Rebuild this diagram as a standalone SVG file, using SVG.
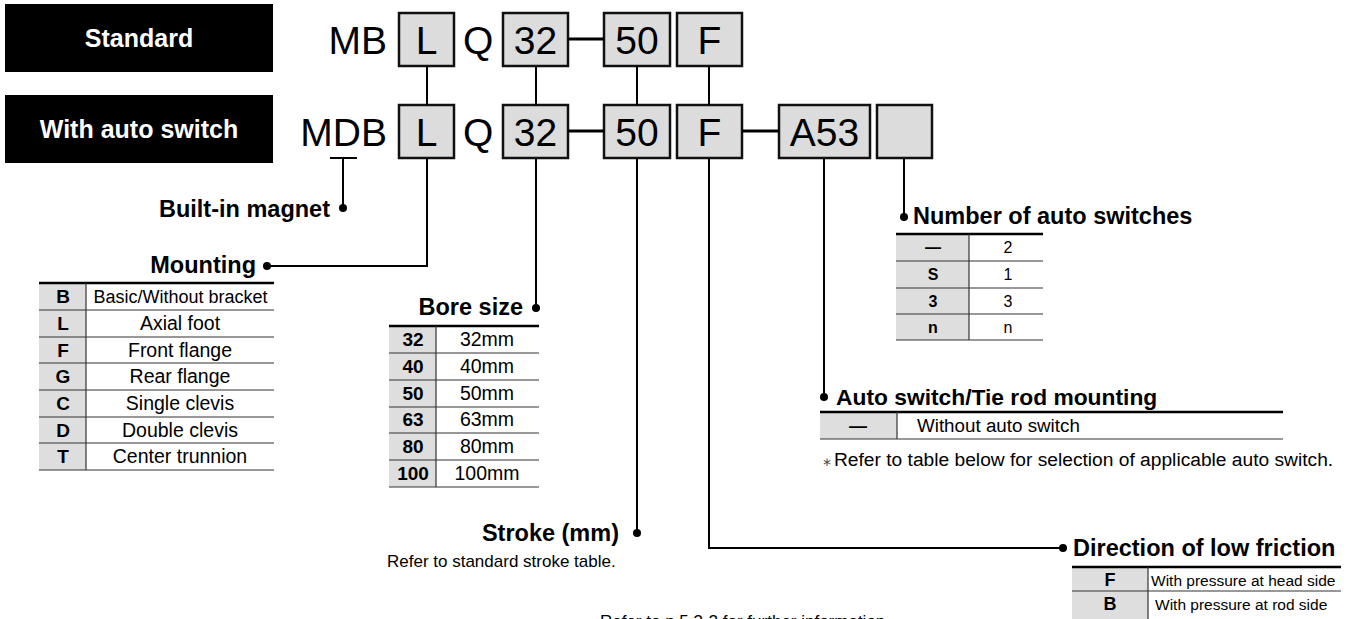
<svg xmlns="http://www.w3.org/2000/svg" width="1351" height="619" viewBox="0 0 1351 619">
<style>
.code{font-family:"Liberation Sans",Arial,sans-serif;font-size:39px;fill:#000}
.box{fill:#dcdcdc;stroke:#111;stroke-width:2.5}
.lbl{font-family:"Liberation Sans",Arial,sans-serif;font-size:23.5px;font-weight:bold;fill:#000}
.hdr{font-family:"Liberation Sans",Arial,sans-serif;font-size:25px;font-weight:bold;fill:#fff;text-anchor:middle}
.t{font-family:"Liberation Sans",Arial,sans-serif;font-size:19.5px;fill:#000;text-anchor:middle}
.tb{font-family:"Liberation Sans",Arial,sans-serif;font-size:19px;font-weight:bold;fill:#000;text-anchor:middle}
.gray{fill:#dedede}
.thick{stroke:#000;stroke-width:2.5}
.thin{stroke:#333;stroke-width:1.2}
.conn{stroke:#000;stroke-width:2;fill:none}
.dash{stroke:#000;stroke-width:3}
.dot{fill:#000}
</style>

<g id="hdr-standard">
<rect x="5" y="4" width="268" height="68" fill="#000"/>
<text class="hdr" x="139" y="47">Standard</text>
</g>
<g id="hdr-auto">
<rect x="5" y="95" width="268" height="68" fill="#000"/>
<text class="hdr" x="139" y="138">With auto switch</text>
</g>

<g id="row1">
<text class="code" x="387" y="54" text-anchor="end">MB</text>
<rect class="box" x="399" y="13" width="55" height="53"/>
<text class="code" x="426.5" y="54" text-anchor="middle">L</text>
<text class="code" x="463" y="54">Q</text>
<rect class="box" x="503" y="13" width="65" height="53"/>
<text class="code" x="535.5" y="54" text-anchor="middle">32</text>
<rect class="box" x="604" y="13" width="66" height="53"/>
<text class="code" x="637" y="54" text-anchor="middle">50</text>
<rect class="box" x="677" y="13" width="65" height="53"/>
<text class="code" x="709.5" y="54" text-anchor="middle">F</text>
</g>

<g id="row2">
<text class="code" x="387" y="146" text-anchor="end">MDB</text>
<rect class="box" x="399" y="105" width="55" height="53"/>
<text class="code" x="426.5" y="146" text-anchor="middle">L</text>
<text class="code" x="463" y="146">Q</text>
<rect class="box" x="503" y="105" width="65" height="53"/>
<text class="code" x="535.5" y="146" text-anchor="middle">32</text>
<rect class="box" x="604" y="105" width="66" height="53"/>
<text class="code" x="637" y="146" text-anchor="middle">50</text>
<rect class="box" x="677" y="105" width="65" height="53"/>
<text class="code" x="709.5" y="146" text-anchor="middle">F</text>
<rect class="box" x="779" y="105" width="91" height="53"/>
<text class="code" x="824.5" y="146" text-anchor="middle">A53</text>
<rect class="box" x="877" y="105" width="55" height="53"/>
</g>

<g id="connectors">
<line class="conn" x1="427" y1="66" x2="427" y2="105"/>
<line class="conn" x1="536" y1="66" x2="536" y2="105"/>
<line class="conn" x1="637" y1="66" x2="637" y2="105"/>
<line class="conn" x1="709" y1="66" x2="709" y2="105"/>
<line class="dash" x1="568" y1="39" x2="604" y2="39"/>
<line class="dash" x1="568" y1="131" x2="604" y2="131"/>
<line class="dash" x1="742" y1="131" x2="779" y2="131"/>
<line class="conn" x1="330" y1="158" x2="357" y2="158"/>
<line class="conn" x1="343" y1="158" x2="343" y2="208"/>
<circle class="dot" cx="343" cy="208" r="4"/>
<polyline class="conn" points="427,158 427,266 267,266"/>
<circle class="dot" cx="267" cy="266" r="4"/>
<line class="conn" x1="536" y1="158" x2="536" y2="308"/>
<circle class="dot" cx="536" cy="308" r="4"/>
<line class="conn" x1="637" y1="158" x2="637" y2="533"/>
<circle class="dot" cx="637" cy="533" r="4"/>
<polyline class="conn" points="709,158 709,548 1063,548"/>
<circle class="dot" cx="1063" cy="548" r="4"/>
<line class="conn" x1="824" y1="158" x2="824" y2="397"/>
<circle class="dot" cx="824" cy="397" r="4"/>
<line class="conn" x1="904" y1="158" x2="904" y2="217"/>
<circle class="dot" cx="904" cy="217" r="4"/>
</g>

<g id="magnet">
<text class="lbl" x="330" y="217" text-anchor="end">Built-in magnet</text>
</g>

<g id="mounting">
<text class="lbl" x="256" y="273" text-anchor="end">Mounting</text>
<rect class="gray" x="39" y="283" width="47" height="187"/>
<line class="thick" x1="39" y1="283" x2="274" y2="283"/>
<line class="thin" x1="39" y1="310" x2="274" y2="310"/>
<line class="thin" x1="39" y1="337" x2="274" y2="337"/>
<line class="thin" x1="39" y1="363" x2="274" y2="363"/>
<line class="thin" x1="39" y1="390" x2="274" y2="390"/>
<line class="thin" x1="39" y1="417" x2="274" y2="417"/>
<line class="thin" x1="39" y1="443" x2="274" y2="443"/>
<line class="thin" x1="39" y1="470" x2="274" y2="470"/>
<line class="thin" x1="86" y1="283" x2="86" y2="470"/>
<text class="tb" x="63" y="303">B</text>
<text class="tb" x="63" y="330">L</text>
<text class="tb" x="63" y="357">F</text>
<text class="tb" x="63" y="383">G</text>
<text class="tb" x="63" y="410">C</text>
<text class="tb" x="63" y="437">D</text>
<text class="tb" x="63" y="463">T</text>
<text class="t" x="180.5" y="303" style="font-size:18px">Basic/Without bracket</text>
<text class="t" x="180" y="330">Axial foot</text>
<text class="t" x="180" y="357">Front flange</text>
<text class="t" x="180" y="383">Rear flange</text>
<text class="t" x="180" y="410">Single clevis</text>
<text class="t" x="180" y="437">Double clevis</text>
<text class="t" x="180" y="463">Center trunnion</text>
</g>

<g id="bore">
<text class="lbl" x="523" y="315" text-anchor="end">Bore size</text>
<rect class="gray" x="389" y="326" width="47" height="161"/>
<line class="thick" x1="389" y1="326" x2="539" y2="326"/>
<line class="thin" x1="389" y1="353" x2="539" y2="353"/>
<line class="thin" x1="389" y1="380" x2="539" y2="380"/>
<line class="thin" x1="389" y1="407" x2="539" y2="407"/>
<line class="thin" x1="389" y1="433" x2="539" y2="433"/>
<line class="thin" x1="389" y1="460" x2="539" y2="460"/>
<line class="thin" x1="389" y1="487" x2="539" y2="487"/>
<line class="thin" x1="436" y1="326" x2="436" y2="487"/>
<text class="tb" x="413" y="346">32</text>
<text class="tb" x="413" y="373">40</text>
<text class="tb" x="413" y="400">50</text>
<text class="tb" x="413" y="426">63</text>
<text class="tb" x="413" y="453">80</text>
<text class="tb" x="413" y="480">100</text>
<text class="t" x="487" y="346">32mm</text>
<text class="t" x="487" y="373">40mm</text>
<text class="t" x="487" y="400">50mm</text>
<text class="t" x="487" y="426">63mm</text>
<text class="t" x="487" y="453">80mm</text>
<text class="t" x="487" y="480">100mm</text>
</g>

<g id="stroke">
<text class="lbl" x="619" y="541" text-anchor="end">Stroke (mm)</text>
<text class="t" x="387" y="567" style="font-size:17px;text-anchor:start">Refer to standard stroke table.</text>
</g>

<g id="number">
<text class="lbl" x="913" y="224">Number of auto switches</text>
<rect class="gray" x="896" y="234" width="73" height="106"/>
<line class="thick" x1="896" y1="234" x2="1043" y2="234"/>
<line class="thin" x1="896" y1="261" x2="1043" y2="261"/>
<line class="thin" x1="896" y1="288" x2="1043" y2="288"/>
<line class="thin" x1="896" y1="314" x2="1043" y2="314"/>
<line class="thin" x1="896" y1="340" x2="1043" y2="340"/>
<line class="thin" x1="969" y1="234" x2="969" y2="340"/>
<text class="tb" x="933" y="253" style="font-size:16px">—</text>
<text class="tb" x="933" y="280" style="font-size:16px">S</text>
<text class="tb" x="933" y="307" style="font-size:16px">3</text>
<text class="tb" x="933" y="333" style="font-size:16px">n</text>
<text class="t" x="1008" y="253" style="font-size:16px">2</text>
<text class="t" x="1008" y="280" style="font-size:16px">1</text>
<text class="t" x="1008" y="307" style="font-size:16px">3</text>
<text class="t" x="1008" y="333" style="font-size:16px">n</text>
</g>

<g id="autoswitch">
<text class="lbl" x="836" y="405" style="font-size:22.8px">Auto switch/Tie rod mounting</text>
<rect class="gray" x="820" y="412" width="77" height="27"/>
<line class="thick" x1="820" y1="412" x2="1283" y2="412"/>
<line class="thin" x1="820" y1="439" x2="1283" y2="439"/>
<line class="thin" x1="897" y1="412" x2="897" y2="439"/>
<text class="tb" x="858" y="432" style="font-size:18px">—</text>
<text class="t" x="917" y="432" style="font-size:18.8px;text-anchor:start">Without auto switch</text>
<text x="822" y="466" style="font-family:'Liberation Sans',Arial,sans-serif;font-size:12px;fill:#555">∗</text>
<text x="834" y="466" style="font-family:'Liberation Sans',Arial,sans-serif;font-size:19.2px;fill:#000">Refer to table below for selection of applicable auto switch.</text>
</g>

<g id="direction">
<text class="lbl" x="1073" y="556">Direction of low friction</text>
<rect class="gray" x="1072" y="567" width="76" height="52"/>
<line class="thick" x1="1072" y1="567" x2="1341" y2="567"/>
<line class="thin" x1="1072" y1="591" x2="1341" y2="591"/>
<line class="thin" x1="1148" y1="567" x2="1148" y2="619"/>
<text class="tb" x="1110" y="586" style="font-size:18px">F</text>
<text class="tb" x="1110" y="610" style="font-size:18px">B</text>
<text class="t" x="1151" y="586" style="font-size:15.5px;text-anchor:start">With pressure at head side</text>
<text class="t" x="1155" y="610" style="font-size:15.5px;text-anchor:start">With pressure at rod side</text>
</g>

<g id="footer">
<text x="745" y="627" style="font-family:'Liberation Sans',Arial,sans-serif;font-size:17px;fill:#000;text-anchor:middle">Refer to p.5.3-2 for further information.</text>
</g>
</svg>
